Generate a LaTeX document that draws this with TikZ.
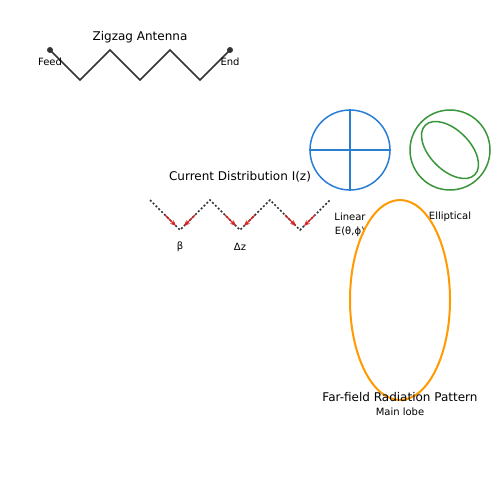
\documentclass[tikz,border=0pt]{standalone}
\usepackage{fontspec}
\setmainfont{DejaVu Sans}
\usetikzlibrary{arrows.meta}
\definecolor{antgray}{HTML}{333333}
\definecolor{polblue}{HTML}{2A7FD4}
\definecolor{polgreen}{HTML}{3A963A}
\definecolor{lobeorange}{HTML}{FF9A00}
\definecolor{curred}{HTML}{D62728}
\tikzset{
  title/.style={font=\fontsize{12}{14}\selectfont, text=black, inner sep=0pt},
  small/.style={font=\fontsize{10}{12}\selectfont, text=black, inner sep=0pt},
  wire/.style={draw=antgray, line width=1.5pt},
  dotwire/.style={draw=antgray, line width=1.5pt, dash pattern=on 2pt off 2pt},
  curarrow/.style={draw=curred, fill=curred, line width=1.3pt, -{Stealth[length=6pt,width=5pt]}},
}
\begin{document}
\begin{tikzpicture}[x=1pt,y=-1pt]
\useasboundingbox (0,0) rectangle (500,500);
% Zigzag antenna
\coordinate (z0) at (50,50);
\coordinate (z1) at (80,80);
\coordinate (z2) at (110,50);
\coordinate (z3) at (140,80);
\coordinate (z4) at (170,50);
\coordinate (z5) at (200,80);
\coordinate (z6) at (230,50);
\draw[wire, line join=miter] (z0) -- (z1) -- (z2) -- (z3) -- (z4) -- (z5) -- (z6);
\fill[antgray] (z0) circle (3);
\fill[antgray] (z6) circle (3);
\node[title] (zt) at (140,37) {Zigzag Antenna};
\node[small] (feed) at (50,62) {Feed};
\node[small] (end) at (230,62) {End};
% Current distribution
\coordinate (c0) at (150,200);
\coordinate (c1) at (180,230);
\coordinate (c2) at (210,200);
\coordinate (c3) at (240,230);
\coordinate (c4) at (270,200);
\coordinate (c5) at (300,230);
\coordinate (c6) at (330,200);
\draw[dotwire] (c0) -- (c1) -- (c2) -- (c3) -- (c4) -- (c5) -- (c6);
\node[title] (ct) at (240,177) {Current Distribution I(z)};
\foreach \v in {180,240,300} {
  \coordinate (al\v) at (\v-15,215);
  \coordinate (ae\v) at (\v-4,226);
  \coordinate (bl\v) at (\v+15,215);
  \coordinate (be\v) at (\v+4,226);
  \draw[curarrow] (al\v) -- (ae\v);
  \draw[curarrow] (bl\v) -- (be\v);
}
\node[small] (beta) at (180,247) {β};
\node[small] (dz) at (240,247) {Δz};
% Linear polarization
\node[draw=polblue, line width=1.5pt, circle, minimum size=80pt, inner sep=0pt] (lin) at (350,150) {};
\draw[polblue, line width=1.5pt] (lin.north) -- (lin.south);
\draw[polblue, line width=1.5pt] (lin.west) -- (lin.east);
\node[small] (lint) at (350,217) {Linear};
\node[small] (eth) at (350,232) {E(θ,ϕ)};
% Elliptical polarization
\node[draw=polgreen, line width=1.5pt, circle, minimum size=80pt, inner sep=0pt] (ell) at (450,150) {};
\draw[polgreen, line width=1.5pt, rotate around={-45:(450,150)}] (450,150) ellipse (35 and 20);
\node[small] (ellt) at (450,217) {Elliptical};
% Far-field pattern
\draw[lobeorange, line width=2pt] (400,300) ellipse (50 and 100);
\node[title] (fft) at (400,397) {Far-field Radiation Pattern};
\node[small] (ml) at (400,412) {Main lobe};
\end{tikzpicture}
\end{document}
